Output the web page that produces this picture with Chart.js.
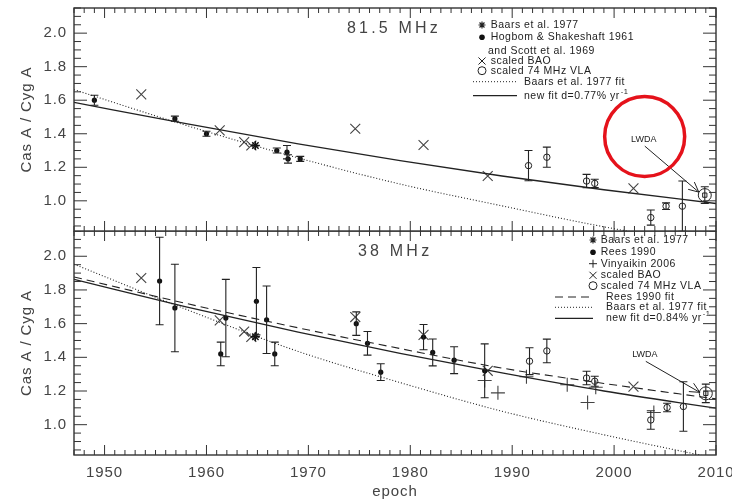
<!DOCTYPE html>
<html>
<head>
<meta charset="utf-8">
<script src="https://cdn.jsdelivr.net/npm/chart.js@4/dist/chart.umd.min.js"></script>
<style>
body { margin: 0; background: #fff; width: 732px; height: 500px; overflow: hidden; position: relative; }
.panel { position: absolute; left: 0; width: 732px; }
#top { top: 0; height: 232px; }
#bot { top: 231px; height: 269px; }
</style>
</head>
<body>
<div class="panel" id="top"><canvas id="topChart"></canvas></div>
<div class="panel" id="bot"><canvas id="botChart"></canvas></div>
<script>
// axis ticks
const xTicks = [1950, 1960, 1970, 1980, 1990, 2000, 2010];
const yTicks = [1.0, 1.2, 1.4, 1.6, 1.8, 2.0];

// fit curves
const fitYears = [1947, 1958, 1969, 1979, 1989, 1999, 2010];
const topNewFit = [1.587, 1.46, 1.34, 1.24, 1.148, 1.066, 0.984];
const topBaarsFit = [1.663, 1.45, 1.256, 1.10, 0.97, 0.845, 0.73];
const botNewFit = [1.863, 1.70, 1.549, 1.423, 1.307, 1.20, 1.098];
const botReesFit = [1.877, 1.72, 1.575, 1.452, 1.336, 1.245, 1.153];
const botBaarsFit = [1.953, 1.685, 1.435, 1.25, 1.08, 0.94, 0.80];

// 81.5 MHz
const topHogYears = [1949.0, 1956.9, 1960.0, 1966.9, 1967.9, 1968.0, 1969.2];
const topHogVals = [1.60, 1.49, 1.40, 1.30, 1.29, 1.25, 1.25];
const topHogErr = [0.03, 0.015, 0.015, 0.015, 0.04, 0.025, 0.015];
const topBaarsYears = [1964.8];
const topBaarsVals = [1.33];
const topBaoYears = [1953.6, 1961.3, 1963.7, 1964.4, 1974.6, 1981.3, 1987.6, 2001.9];
const topBaoVals = [1.635, 1.42, 1.35, 1.33, 1.43, 1.333, 1.148, 1.074];
const topVlaYears = [1991.6, 1993.4, 1997.3, 1998.1, 2003.6, 2005.1, 2006.7];
const topVlaVals = [1.21, 1.26, 1.118, 1.104, 0.90, 0.968, 0.968];
const topVlaErr = [0.09, 0.06, 0.04, 0.025, 0.045, 0.02, 0.15];
const topLwdaYears = [2008.9];
const topLwdaVals = [1.034];
const topLwdaErr = [0.05];

// 38 MHz
const botReesYears = [1955.4, 1956.9, 1961.4, 1961.9, 1964.9, 1965.9, 1966.7, 1974.7, 1975.8, 1977.1, 1981.3, 1982.2, 1984.3, 1987.3];
const botReesVals = [1.853, 1.693, 1.42, 1.633, 1.733, 1.623, 1.42, 1.60, 1.483, 1.312, 1.52, 1.429, 1.383, 1.32];
const botReesErr = [0.26, 0.26, 0.07, 0.23, 0.2, 0.2, 0.07, 0.07, 0.07, 0.05, 0.075, 0.08, 0.08, 0.16];
const botBaarsYears = [1964.8];
const botBaarsVals = [1.522];
const botVinYears = [1987.3, 1988.6, 1991.4, 1995.4, 1997.4, 1998.2, 2003.9];
const botVinVals = [1.262, 1.189, 1.285, 1.237, 1.132, 1.222, 1.072];
const botBaoYears = [1953.6, 1961.3, 1963.7, 1964.4, 1974.6, 1981.3, 1987.6, 2001.9];
const botBaoVals = [1.871, 1.619, 1.553, 1.521, 1.639, 1.533, 1.32, 1.226];
const botVlaYears = [1991.7, 1993.4, 1997.3, 1998.1, 2003.6, 2005.2, 2006.8];
const botVlaVals = [1.377, 1.438, 1.277, 1.258, 1.028, 1.102, 1.108];
const botVlaErr = [0.08, 0.07, 0.04, 0.03, 0.055, 0.025, 0.147];
const botLwdaYears = [2009.0];
const botLwdaVals = [1.186];
const botLwdaErr = [0.055];

Chart.defaults.font.family = "'Liberation Sans', Arial, sans-serif";
Chart.defaults.color = '#444';

const dotStyle = { pointStyle: 'circle', pointRadius: 2.6, backgroundColor: '#111', borderColor: '#111', borderWidth: 0 };
const starStyle = { pointStyle: 'star', pointRadius: 4.5, backgroundColor: '#111', borderColor: '#111', borderWidth: 1.4 };
const xStyle = { pointStyle: 'crossRot', pointRadius: 7, borderColor: '#444', borderWidth: 1.1 };
const plusStyle = { pointStyle: 'cross', pointRadius: 7, borderColor: '#444', borderWidth: 1.1 };
const circStyle = { pointStyle: 'circle', pointRadius: 3.2, backgroundColor: 'rgba(0,0,0,0)', borderColor: '#222', borderWidth: 1 };
const bigCircStyle = { pointStyle: 'circle', pointRadius: 6.5, backgroundColor: 'rgba(0,0,0,0)', borderColor: '#222', borderWidth: 1 };

function pts(xs, ys) {
    return xs.map((x, i) => ({ x: x, y: ys[i] }));
}

function pointSet(label, xs, ys, errs, style) {
    return Object.assign({ label: label, data: pts(xs, ys), errs: errs || null, showLine: false }, style);
}

function fitSet(label, ys, dash) {
    return {
        label: label, data: pts(fitYears, ys), showLine: true, pointRadius: 0,
        borderColor: '#222', borderWidth: dash.length ? 1.1 : 1.3, borderDash: dash,
        cubicInterpolationMode: 'monotone', fill: false
    };
}

// frame, inward ticks, error bars, legend and notes
const panelPlugin = {
    id: 'panel',
    beforeDraw(chart) {
        chart.ctx.letterSpacing = '0.9px';
    },
    afterDatasetsDraw(chart) {
        const { ctx, chartArea: a, scales: { x, y } } = chart;
        ctx.save();
        ctx.beginPath();
        ctx.rect(a.left, a.top, a.right - a.left, a.bottom - a.top);
        ctx.clip();
        ctx.strokeStyle = '#222';
        ctx.lineWidth = 1.1;
        chart.data.datasets.forEach(ds => {
            if (!ds.errs) return;
            ds.data.forEach((p, i) => {
                const e = ds.errs[i];
                const px = x.getPixelForValue(p.x);
                const y1 = y.getPixelForValue(p.y + e);
                const y2 = y.getPixelForValue(p.y - e);
                ctx.beginPath();
                ctx.moveTo(px, y1); ctx.lineTo(px, y2);
                ctx.moveTo(px - 4, y1); ctx.lineTo(px + 4, y1);
                ctx.moveTo(px - 4, y2); ctx.lineTo(px + 4, y2);
                ctx.stroke();
            });
        });
        ctx.restore();
    },
    afterDraw(chart, args, opts) {
        const { ctx, chartArea: a, scales: { x, y } } = chart;
        ctx.save();
        ctx.letterSpacing = '0px';

        // box
        ctx.strokeStyle = '#333';
        ctx.lineWidth = 1.4;
        ctx.strokeRect(a.left, a.top, a.right - a.left, a.bottom - a.top);

        // inward ticks on all four sides
        ctx.lineWidth = 1;
        ctx.beginPath();
        for (let yr = 1947; yr <= 2010; yr++) {
            const px = x.getPixelForValue(yr);
            const len = yr % 10 === 0 ? 10 : 5;
            ctx.moveTo(px, a.bottom); ctx.lineTo(px, a.bottom - len);
            ctx.moveTo(px, a.top); ctx.lineTo(px, a.top + len);
        }
        for (let k = 17; k <= 43; k++) {
            const py = y.getPixelForValue(k * 0.05);
            const len = k % 4 === 0 ? 13 : 7;
            ctx.moveTo(a.left, py); ctx.lineTo(a.left + len, py);
            ctx.moveTo(a.right, py); ctx.lineTo(a.right - len, py);
        }
        ctx.stroke();

        // panel title
        ctx.fillStyle = '#444';
        ctx.textBaseline = 'middle';
        ctx.textAlign = 'left';
        ctx.letterSpacing = '3.2px';
        ctx.font = "16px 'Liberation Sans', Arial, sans-serif";
        ctx.fillText(opts.title.text, opts.title.x, opts.title.y);

        // legend
        ctx.letterSpacing = '0.5px';
        opts.legend.forEach(it => {
            ctx.save();
            if (it.marker) {
                const m = it.marker;
                ctx.fillStyle = m.fill || 'rgba(0,0,0,0)';
                ctx.strokeStyle = '#222';
                ctx.lineWidth = m.borderWidth;
                Chart.helpers.drawPoint(ctx, { pointStyle: m.pointStyle, radius: m.radius, borderWidth: m.borderWidth, rotation: 0 }, it.mx, it.y);
            }
            if (it.line) {
                ctx.strokeStyle = '#222';
                ctx.lineWidth = it.line.length ? 1 : 1.2;
                ctx.setLineDash(it.line);
                ctx.beginPath();
                ctx.moveTo(it.x1, it.y); ctx.lineTo(it.x2, it.y);
                ctx.stroke();
            }
            ctx.restore();
            ctx.font = "10.5px 'Liberation Sans', Arial, sans-serif";
            ctx.fillStyle = '#222';
            ctx.fillText(it.text, it.tx, it.y);
            if (it.sup) {
                const w = ctx.measureText(it.text).width;
                ctx.font = "7.5px 'Liberation Sans', Arial, sans-serif";
                ctx.fillText(it.sup, it.tx + w + 1, it.y - 4);
            }
        });

        // LWDA note with arrow
        const lw = opts.lwda;
        const px = x.getPixelForValue(lw.x), py = y.getPixelForValue(lw.y);
        const tx = px + lw.dx, ty = py + lw.dy;
        const ex = px - 6, ey = py + lw.tipDy;
        ctx.letterSpacing = '0px';
        ctx.font = "9px 'Liberation Sans', Arial, sans-serif";
        ctx.textAlign = 'center';
        ctx.fillStyle = '#222';
        ctx.fillText('LWDA', tx, ty);
        const sx = tx + 1, sy = ty + 7;
        ctx.strokeStyle = '#222';
        ctx.lineWidth = 1;
        ctx.beginPath();
        ctx.moveTo(sx, sy); ctx.lineTo(ex, ey);
        const ang = Math.atan2(ey - sy, ex - sx);
        ctx.moveTo(ex, ey); ctx.lineTo(ex - 11 * Math.cos(ang - 0.45), ey - 11 * Math.sin(ang - 0.45));
        ctx.moveTo(ex, ey); ctx.lineTo(ex - 11 * Math.cos(ang + 0.45), ey - 11 * Math.sin(ang + 0.45));
        ctx.stroke();

        // red highlight ring
        if (opts.ring) {
            ctx.strokeStyle = '#e5121b';
            ctx.lineWidth = 3.5;
            ctx.beginPath();
            ctx.arc(x.getPixelForValue(opts.ring.x), y.getPixelForValue(opts.ring.y), opts.ring.r, 0, Math.PI * 2);
            ctx.stroke();
        }
        ctx.restore();
    }
};

function makeOptions(isBottom, panel) {
    return {
        responsive: true,
        maintainAspectRatio: false,
        animation: false,
        events: [],
        layout: { autoPadding: false, padding: { top: isBottom ? 0 : 8, right: 16, left: 0, bottom: isBottom ? 0 : 1 } },
        plugins: { legend: { display: false }, tooltip: { enabled: false }, panel: panel },
        scales: {
            x: {
                type: 'linear', min: 1947, max: 2010, display: isBottom,
                afterBuildTicks: s => { s.ticks = xTicks.map(v => ({ value: v })); },
                afterFit: s => { s.height = isBottom ? 45 : 0; s.paddingLeft = 0; s.paddingRight = 0; },
                grid: { display: false, drawTicks: false },
                border: { display: false },
                ticks: { padding: 9, maxRotation: 0, autoSkip: false, color: '#444', font: { size: 15 }, callback: v => String(v) },
                title: { display: true, text: 'epoch', color: '#444', font: { size: 15, lineHeight: 1 }, padding: { top: 0, bottom: 0.5 } }
            },
            y: {
                type: 'linear', min: 0.82, max: 2.15,
                afterBuildTicks: s => { s.ticks = yTicks.map(v => ({ value: v })); },
                afterFit: s => { s.width = 74; s.paddingTop = 0; s.paddingBottom = 0; },
                grid: { display: false, drawTicks: false },
                border: { display: false },
                ticks: { padding: 7, color: '#444', font: { size: 15 }, callback: v => v.toFixed(1) },
                title: { display: true, text: 'Cas A / Cyg A', color: '#444', font: { size: 15 }, padding: { top: 18, bottom: 0 } }
            }
        }
    };
}

const topLegend = [
    { text: 'Baars et al. 1977', tx: 490.7, y: 25, mx: 482, marker: { pointStyle: 'star', radius: 3.5, borderWidth: 1.2, fill: '#111' } },
    { text: 'Hogbom & Shakeshaft 1961', tx: 490.7, y: 37.3, mx: 482, marker: { pointStyle: 'circle', radius: 2.8, borderWidth: 0, fill: '#111' } },
    { text: 'and Scott et al. 1969', tx: 488, y: 50.7 },
    { text: 'scaled BAO', tx: 490.7, y: 61, mx: 482, marker: { pointStyle: 'crossRot', radius: 5, borderWidth: 1 } },
    { text: 'scaled 74 MHz VLA', tx: 490.7, y: 70.7, mx: 482, marker: { pointStyle: 'circle', radius: 4, borderWidth: 1 } },
    { text: 'Baars et al. 1977 fit', tx: 524, y: 81.7, x1: 473, x2: 517, line: [1, 2] },
    { text: 'new fit d=0.77% yr', sup: '-1', tx: 524, y: 95.7, x1: 473, x2: 517, line: [] }
];

const botLegend = [
    { text: 'Baars et al. 1977', tx: 600.7, y: 9, mx: 593, marker: { pointStyle: 'star', radius: 3.5, borderWidth: 1.2, fill: '#111' } },
    { text: 'Rees 1990', tx: 600.7, y: 21.3, mx: 593, marker: { pointStyle: 'circle', radius: 2.8, borderWidth: 0, fill: '#111' } },
    { text: 'Vinyaikin 2006', tx: 600.7, y: 32.7, mx: 593, marker: { pointStyle: 'cross', radius: 4, borderWidth: 1 } },
    { text: 'scaled BAO', tx: 600.7, y: 44.3, mx: 593, marker: { pointStyle: 'crossRot', radius: 5, borderWidth: 1 } },
    { text: 'scaled 74 MHz VLA', tx: 600.7, y: 54.7, mx: 593, marker: { pointStyle: 'circle', radius: 4, borderWidth: 1 } },
    { text: 'Rees 1990 fit', tx: 606, y: 66, x1: 555, x2: 593, line: [8, 5] },
    { text: 'Baars et al. 1977 fit', tx: 606, y: 76.3, x1: 555, x2: 593, line: [1, 2] },
    { text: 'new fit d=0.84% yr', sup: '-1', tx: 606, y: 87.3, x1: 555, x2: 593, line: [] }
];

new Chart(document.getElementById('topChart'), {
    type: 'scatter',
    data: {
        datasets: [
            fitSet('Baars et al. 1977 fit', topBaarsFit, [1, 2]),
            fitSet('new fit d=0.77% yr-1', topNewFit, []),
            pointSet('Hogbom & Shakeshaft 1961 and Scott et al. 1969', topHogYears, topHogVals, topHogErr, dotStyle),
            pointSet('Baars et al. 1977', topBaarsYears, topBaarsVals, null, starStyle),
            pointSet('scaled BAO', topBaoYears, topBaoVals, null, xStyle),
            pointSet('scaled 74 MHz VLA', topVlaYears, topVlaVals, topVlaErr, circStyle),
            pointSet('LWDA', topLwdaYears, topLwdaVals, topLwdaErr, bigCircStyle),
            pointSet('LWDA', topLwdaYears, topLwdaVals, null, { pointStyle: 'rect', pointRadius: 3, backgroundColor: 'rgba(0,0,0,0)', borderColor: '#222', borderWidth: 1 })
        ]
    },
    options: makeOptions(false, {
        title: { text: '81.5 MHz', x: 347, y: 29 },
        legend: topLegend,
        lwda: { x: 2008.9, y: 1.034, dx: -61, dy: -56, tipDy: -3 },
        ring: { x: 2003.0, y: 1.383, r: 40 }
    }),
    plugins: [panelPlugin]
});

new Chart(document.getElementById('botChart'), {
    type: 'scatter',
    data: {
        datasets: [
            fitSet('Baars et al. 1977 fit', botBaarsFit, [1, 2]),
            fitSet('Rees 1990 fit', botReesFit, [8, 5]),
            fitSet('new fit d=0.84% yr-1', botNewFit, []),
            pointSet('Rees 1990', botReesYears, botReesVals, botReesErr, dotStyle),
            pointSet('Baars et al. 1977', botBaarsYears, botBaarsVals, null, starStyle),
            pointSet('Vinyaikin 2006', botVinYears, botVinVals, null, plusStyle),
            pointSet('scaled BAO', botBaoYears, botBaoVals, null, xStyle),
            pointSet('scaled 74 MHz VLA', botVlaYears, botVlaVals, botVlaErr, circStyle),
            pointSet('LWDA', botLwdaYears, botLwdaVals, botLwdaErr, bigCircStyle),
            pointSet('LWDA', botLwdaYears, botLwdaVals, null, { pointStyle: 'rect', pointRadius: 3, backgroundColor: 'rgba(0,0,0,0)', borderColor: '#222', borderWidth: 1 })
        ]
    },
    options: makeOptions(true, {
        title: { text: '38 MHz', x: 358, y: 20.7 },
        legend: botLegend,
        lwda: { x: 2009.0, y: 1.186, dx: -61, dy: -39, tipDy: -1 }
    }),
    plugins: [panelPlugin]
});
</script>
</body>
</html>
